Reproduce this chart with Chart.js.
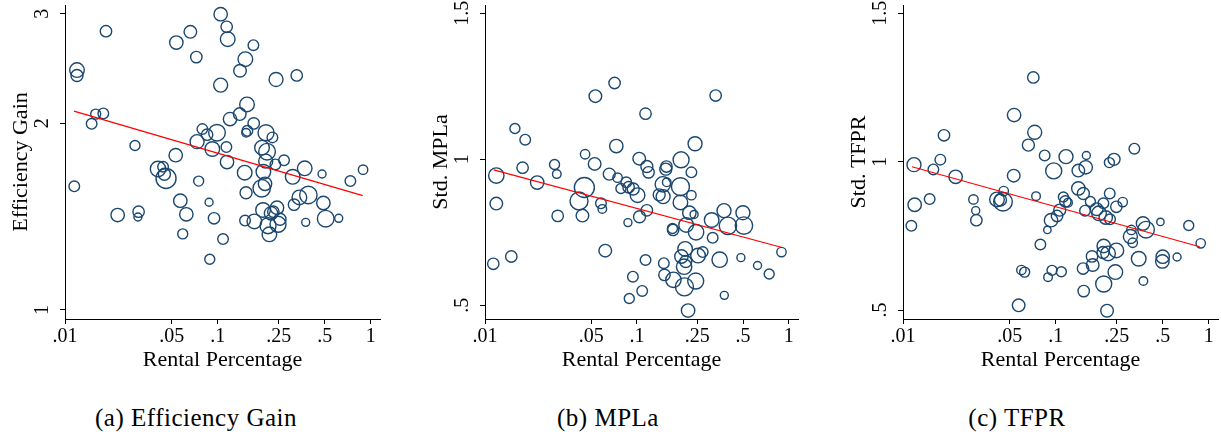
<!DOCTYPE html>
<html>
<head>
<meta charset="utf-8">
<script src="https://cdn.jsdelivr.net/npm/chart.js@4.4.1/dist/chart.umd.min.js"></script>
<style>
  body { margin: 0; background: #fff; width: 1221px; height: 440px; position: relative; overflow: hidden; }
  canvas { position: absolute; top: 0; }
  .cap { position: absolute; top: 404px; font-family: "Liberation Serif", serif; font-size: 25px; letter-spacing: 0.5px; color: #000; transform: translateX(-50%); white-space: nowrap; }
</style>
</head>
<body>
<canvas id="effChart" width="390" height="375" style="left:0px"></canvas>
<canvas id="mplChart" width="390" height="375" style="left:420px"></canvas>
<canvas id="tfpChart" width="383" height="375" style="left:838px"></canvas>
<div class="cap" style="left:196px">(a) Efficiency Gain</div>
<div class="cap" style="left:608px">(b) MPLa</div>
<div class="cap" style="left:1017px">(c) TFPR</div>
<script>
// x axis ticks (rental percentage, log scale)
var xTicks = [0.01, 0.05, 0.1, 0.25, 0.5, 1];
var xTickLabels = ['.01', '.05', '.1', '.25', '.5', '1'];

// (a) efficiency gain
var effX = [0.1043,0.1142,0.1160,0.1708,0.0661,0.0535,0.01854,0.0723,0.1513,0.1396,
  0.01198,0.01198,0.2402,0.328,0.1043,0.1551,0.139,0.1201,0.1716,0.01781,
  0.01588,0.01494,0.0792,0.085,0.0987,0.156,0.153,0.2066,0.2274,0.0731,
  0.092,0.1137,0.0287,0.053,0.1945,0.2098,0.2056,0.2378,0.271,0.1148,
  0.0406,0.0438,0.0447,0.0458,0.1498,0.1985,0.3088,0.370,0.4805,0.7362,
  0.891,0.0115,0.0749,0.2035,0.1935,0.1529,0.391,0.3415,0.0568,0.0876,
  0.315,0.490,0.0221,0.0303,0.0300,0.0622,0.0944,0.1506,0.1733,0.1975,
  0.2228,0.2438,0.2129,0.2475,0.2551,0.2173,0.3756,0.5077,0.6175,0.0589,
  0.1081,0.0885,0.2307];
var effY = [2.996,2.859,2.731,2.671,2.806,2.697,2.813,2.555,2.536,2.429,
  2.435,2.387,2.352,2.387,2.303,2.144,2.068,2.030,1.998,2.073,
  2.068,1.995,1.956,1.916,1.930,1.944,1.930,1.930,1.897,1.867,
  1.817,1.830,1.841,1.776,1.826,1.799,1.737,1.716,1.742,1.731,
  1.687,1.701,1.654,1.629,1.664,1.670,1.639,1.691,1.656,1.613,
  1.683,1.582,1.613,1.597,1.570,1.545,1.532,1.518,1.500,1.491,
  1.478,1.487,1.422,1.440,1.412,1.426,1.405,1.393,1.389,1.449,
  1.431,1.461,1.367,1.374,1.400,1.324,1.384,1.403,1.405,1.326,
  1.301,1.207,1.440];
var effR = [6.7,5.7,7.3,5.3,6.3,6.7,5.7,5.7,7.3,6.3,
  7.3,6,7,5.7,7,7.3,6.3,6.7,5.7,5.3,
  5,5.3,5.3,5.7,8.3,5.3,4.3,8,5.3,7,
  7.3,5.3,5,6.7,7.3,8.3,7,5.3,5.3,6.7,
  7.7,5.3,6,10,7.3,7.3,7.3,7.3,4,5.3,
  4.7,5.3,5,6.7,8.7,6,8.7,7.3,6.7,4,
  5.7,6.7,6.7,5.7,4,6.7,5.7,5.3,7.3,7.3,
  6.7,6.7,8,8,6,7.3,4,8.3,4,5,
  5.3,5,5.7];
var effFitX = [0.01145, 0.887];
var effFitY = [2.091, 1.528];
var effTicks = [1, 2, 3];
var effTickLabels = ['1', '2', '3'];

// (b) MPLa
var mplX = [0.0713,0.0533,0.330,0.114,0.01574,0.0184,0.0732,0.2415,0.0456,0.0527,
  0.0287,0.0297,0.01768,0.01187,0.02206,0.0658,0.0746,0.1036,0.1163,0.1193,
  0.1954,0.1565,0.155,0.2285,0.1482,0.1573,0.1935,0.0851,0.0882,0.0946,
  0.101,0.0785,0.0451,0.0416,0.058,0.0592,0.2285,0.1402,0.1489,0.1935,
  0.01187,0.0301,0.0438,0.1163,0.1041,0.0873,0.2216,0.2379,0.2109,0.2452,
  0.1732,0.1715,0.3107,0.3745,0.3977,0.4989,0.5066,0.3155,
  0.8952,0.0619,0.0149,0.01134,0.114,0.1504,0.2077,0.1964,0.2098,0.2046,0.2713,
  0.2527,0.3507,0.4839,0.6228,0.743,0.0941,0.1519,0.174,0.2439,0.2056,0.1084,0.0891,0.3763,0.2173];
var mplY = [1.261,1.216,1.218,1.156,1.105,1.067,1.045,1.053,1.017,0.984,
  0.982,0.949,0.971,0.944,0.920,0.949,0.937,1.002,0.975,0.955,
  0.998,0.975,0.966,0.955,0.914,0.921,0.906,0.921,0.904,0.898,
  0.877,0.900,0.903,0.857,0.849,0.830,0.877,0.878,0.872,0.852,
  0.848,0.806,0.807,0.825,0.803,0.783,0.817,0.811,0.775,0.750,
  0.758,0.763,0.792,0.824,0.772,0.817,0.773,0.731,
  0.682,0.687,0.667,0.642,0.655,0.644,0.693,0.667,0.650,0.632,0.682,
  0.670,0.656,0.663,0.636,0.607,0.598,0.604,0.587,0.583,0.563,0.549,0.523,0.534,0.482];
var mplR = [5.7,6.3,5.7,5.7,5,5.3,6.7,7,4.7,6.3,
  5,4.3,5.7,7.7,6.7,6,4.7,6.3,6,5.7,
  8,5.7,6,5.3,7.7,4.3,9,5.3,5.7,6,
  7.3,5,10,9,5.3,4.3,4.7,6,7,7.3,
  6.3,5.7,6.3,5.7,6,4,6.7,4,7.3,7.7,
  5.7,5,7.3,7,8.7,7,8.7,5.3,
  4.7,6.3,5.7,5.7,5.3,5.3,7.3,6.7,6,7.7,5.3,
  7.3,7.7,4,4,5,5.3,5.7,7.7,8,9,5.3,5,4,6.7];
var mplFitX = [0.0114, 0.8906];
var mplFitY = [0.9635, 0.6986];
var stdTicks = [0.5, 1, 1.5];
var stdTickLabels = ['.5', '1', '1.5'];

// (c) TFPR
var tfpX = [0.0712,0.0533,0.0727,0.01854,0.0661,0.3263,0.0845,0.1165,0.1583,0.01755,
  0.0118,0.0158,0.0221,0.053,0.0968,0.1403,0.1567,0.2239,0.2402,0.0456,
  0.0412,0.0451,0.0434,0.0742,0.0289,0.01494,0.01192,0.0299,0.0302,0.01134,
  0.1403,0.1513,0.1682,0.112,0.1154,0.1201,0.106,0.1018,0.0930,0.0880,
  0.1551,0.185,0.2046,0.1916,0.2119,0.2251,0.2488,0.2738,0.2262,0.3119,
  0.3073,0.3183,0.3717,0.389,0.483,0.740,0.8863,0.0792,0.2056,0.2035,
  0.2195,0.2488,0.1724,0.1742,0.3483,0.50,0.4975,0.6207,0.1506,0.0944,
  0.1086,0.0595,0.0625,0.0889,0.245,0.2056,0.3737,0.1521,0.0571,0.2162];
var tfpY = [1.284,1.157,1.099,1.089,1.056,1.044,1.021,1.017,1.021,1.007,
  0.990,0.974,0.949,0.953,0.969,0.970,0.981,0.997,1.008,0.901,
  0.873,0.865,0.871,0.884,0.873,0.874,0.855,0.835,0.803,0.784,
  0.910,0.893,0.866,0.881,0.866,0.862,0.837,0.817,0.803,0.770,
  0.835,0.840,0.860,0.826,0.812,0.893,0.848,0.864,0.806,0.770,
  0.748,0.727,0.792,0.771,0.797,0.785,0.725,0.721,0.716,0.694,
  0.691,0.701,0.681,0.652,0.673,0.680,0.664,0.679,0.640,0.634,
  0.629,0.635,0.628,0.611,0.628,0.588,0.598,0.564,0.516,0.498];
var tfpR = [5.7,6.7,7,5.7,6,5.3,5.3,7,4,5.3,
  7,5.3,6.7,6.3,8,6.3,6.7,5,6,4.7,
  7.3,9.3,6,4.3,4.7,5.3,6.7,4,5.7,5.3,
  6.7,6,5,5,5.7,4.3,6,5.7,6.7,3.7,
  5.3,6.3,5.3,7.3,6.7,5.3,5.7,4.7,5.3,4.7,
  7,4.7,6.7,8.3,3.7,5,4.7,5.3,6.7,6,
  7.3,7.3,5.7,6.3,7.3,6.7,6.7,4,5.7,5,
  5,4.7,5,4.3,7.3,8,4.3,5.7,6.3,6.3];
var tfpFitX = [0.01145, 0.8733];
var tfpFitY = [0.983, 0.7135];

var FONT = '"Liberation Serif", "Times New Roman", serif';

function pts(xs, ys, rs) {
  return xs.map(function (x, i) {
    var p = { x: x, y: ys[i] };
    if (rs) p.r = rs[i];
    return p;
  });
}

// the edge labels must not push the plot area in
function noEdgePad(s) {
  s.paddingTop = 0; s.paddingBottom = 0; s.paddingLeft = 0; s.paddingRight = 0;
}

function make_chart(id, p) {
  var ctx = document.getElementById(id).getContext('2d');
  return new Chart(ctx, {
    type: 'bubble',
    data: {
      datasets: [{
        type: 'line',
        data: pts(p.fitX, p.fitY),
        borderColor: '#ff0000',
        borderWidth: 1.2,
        pointRadius: 0,
        fill: false
      }, {
        data: pts(p.x, p.y, p.r),
        backgroundColor: 'rgba(0,0,0,0)',
        borderColor: '#1a476f',
        borderWidth: 1.4,
        clip: false
      }]
    },
    options: {
      responsive: false,
      animation: false,
      events: [],
      // bubbles would otherwise add their own padding round the plot
      layout: { autoPadding: false, padding: { left: 0, right: p.padRight, top: 5, bottom: 0 } },
      plugins: { legend: { display: false }, tooltip: { enabled: false } },
      scales: {
        x: {
          type: 'logarithmic',
          min: 0.01,
          max: 1.15,
          afterBuildTicks: function (s) { s.ticks = xTicks.map(function (v) { return { value: v }; }); },
          afterFit: function (s) { s.height = 56; noEdgePad(s); },
          ticks: {
            autoSkip: false, maxRotation: 0, padding: 1, color: '#000',
            font: { family: FONT, size: 20 },
            callback: function (v, i) { return xTickLabels[i]; }
          },
          grid: { drawOnChartArea: false, drawTicks: true, tickLength: 5, color: '#000', lineWidth: 1 },
          border: { display: true, color: '#000', width: 1 },
          title: {
            display: true, text: 'Rental Percentage', color: '#000',
            font: { family: FONT, size: 22 }, padding: { top: 0, bottom: 2 }
          }
        },
        y: {
          type: p.yType,
          min: p.yMin,
          max: p.yMax,
          afterBuildTicks: function (s) { s.ticks = p.yTicks.map(function (v) { return { value: v }; }); },
          afterFit: function (s) { s.width = 65; noEdgePad(s); },
          ticks: {
            autoSkip: false, minRotation: 90, maxRotation: 90, crossAlign: 'center',
            padding: p.yPad, color: '#000',
            font: { family: FONT, size: 20 },
            callback: function (v, i) { return p.yTickLabels[i]; }
          },
          grid: { drawOnChartArea: false, drawTicks: true, tickLength: 5, color: '#000', lineWidth: 1 },
          border: { display: true, color: '#000', width: 1 },
          title: {
            display: true, text: p.yTitle, color: '#000',
            font: { family: FONT, size: 22 }, padding: { top: 8, bottom: 0 }
          }
        }
      }
    }
  });
}

make_chart('effChart', {
  x: effX, y: effY, r: effR, fitX: effFitX, fitY: effFitY,
  yType: 'logarithmic', yMin: 0.967, yMax: 3.1, yTicks: effTicks, yTickLabels: effTickLabels,
  yTitle: 'Efficiency Gain', yPad: 12.5, padRight: 10
});
make_chart('mplChart', {
  x: mplX, y: mplY, r: mplR, fitX: mplFitX, fitY: mplFitY,
  yType: 'linear', yMin: 0.453, yMax: 1.528, yTicks: stdTicks, yTickLabels: stdTickLabels,
  yTitle: 'Std. MPLa', yPad: 5, padRight: 12
});
make_chart('tfpChart', {
  x: tfpX, y: tfpY, r: tfpR, fitX: tfpFitX, fitY: tfpFitY,
  yType: 'linear', yMin: 0.47, yMax: 1.528, yTicks: stdTicks, yTickLabels: stdTickLabels,
  yTitle: 'Std. TFPR', yPad: 5, padRight: 3
});
</script>
</body>
</html>
